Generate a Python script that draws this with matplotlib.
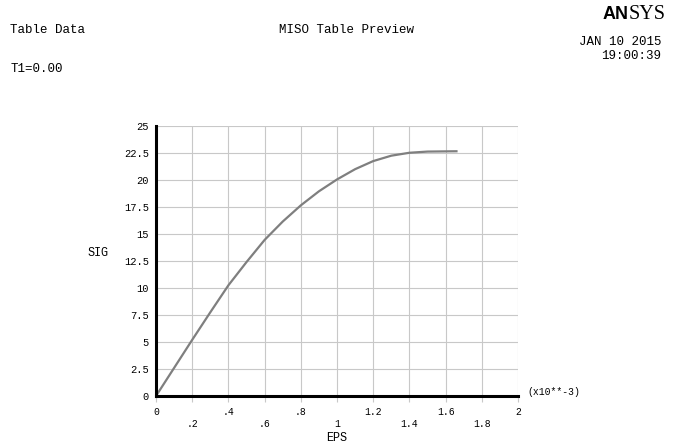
import matplotlib
matplotlib.use("Agg")
import matplotlib.pyplot as plt

# MISO table: strain (x10**-3) vs stress
eps = [0, 0.1, 0.2, 0.3, 0.4, 0.5, 0.6, 0.7, 0.8, 0.9, 1.0, 1.1, 1.2, 1.3, 1.4, 1.5, 1.66]
sig = [0, 2.6, 5.2, 7.75, 10.25, 12.4, 14.45, 16.15, 17.65, 18.95, 20.05, 21.0, 21.75,
       22.25, 22.52, 22.63, 22.66]

xticks = [0, 0.2, 0.4, 0.6, 0.8, 1.0, 1.2, 1.4, 1.6, 1.8, 2.0]
xlabels = ["0", ".2", ".4", ".6", ".8", "1", "1.2", "1.4", "1.6", "1.8", "2"]
yticks = [0, 2.5, 5, 7.5, 10, 12.5, 15, 17.5, 20, 22.5, 25]
ylabels = ["0", "2.5", "5", "7.5", "10", "12.5", "15", "17.5", "20", "22.5", "25"]

mono = "Liberation Mono"

fig = plt.figure(figsize=(6.73, 4.45), dpi=100)
ax = fig.add_axes([0.2318, 0.1101, 0.5379, 0.6068])

ax.plot(eps, sig, color="#7f7f7f", lw=1.6, solid_joinstyle="round")
ax.set_xlim(0, 2)
ax.set_ylim(0, 25)

ax.set_xticks(xticks)
ax.set_xticklabels([])
ax.set_yticks(yticks)
ax.set_yticklabels(ylabels, fontfamily=mono, fontsize=7.5)
ax.grid(True, color="#c8c8c8", lw=0.8)
ax.tick_params(axis="x", length=4, color="#c8c8c8")
ax.tick_params(axis="y", length=0, pad=5)

# staggered x labels like ANSYS
for i, (x, lab) in enumerate(zip(xticks, xlabels)):
    yoff = -0.058 if i % 2 == 0 else -0.105
    ax.text(x, yoff, lab, transform=ax.get_xaxis_transform(), ha="center",
            va="center", fontfamily=mono, fontsize=7)

for s in ["top", "right"]:
    ax.spines[s].set_visible(False)
for s in ["left", "bottom"]:
    ax.spines[s].set_linewidth(2.2)
    ax.spines[s].set_color("black")

ax.text(1.025, 0.015, "(x10**-3)", transform=ax.transAxes, ha="left", va="center",
        fontfamily=mono, fontsize=7)

fig.text(0.5007, 0.016, "EPS", ha="center", va="center", fontfamily=mono, fontsize=8.5)
fig.text(0.146, 0.432, "SIG", ha="center", va="center", fontfamily=mono, fontsize=8.5)

fig.text(0.015, 0.933, "Table Data", ha="left", va="center", fontfamily=mono, fontsize=9)
fig.text(0.515, 0.933, "MISO Table Preview", ha="center", va="center", fontfamily=mono, fontsize=9)
fig.text(0.015, 0.845, "T1=0.00", ha="left", va="center", fontfamily=mono, fontsize=9)
fig.text(0.983, 0.906, "JAN 10 2015", ha="right", va="center", fontfamily=mono, fontsize=9)
fig.text(0.983, 0.874, "19:00:39", ha="right", va="center", fontfamily=mono, fontsize=9)

fig.text(0.934, 0.967, "AN", ha="right", va="center", fontfamily="Liberation Sans",
         fontweight="bold", fontsize=13)
fig.text(0.934, 0.967, "SYS", ha="left", va="center", fontfamily="Liberation Serif",
         fontsize=14.5)

fig.savefig("out.png", dpi=100)
